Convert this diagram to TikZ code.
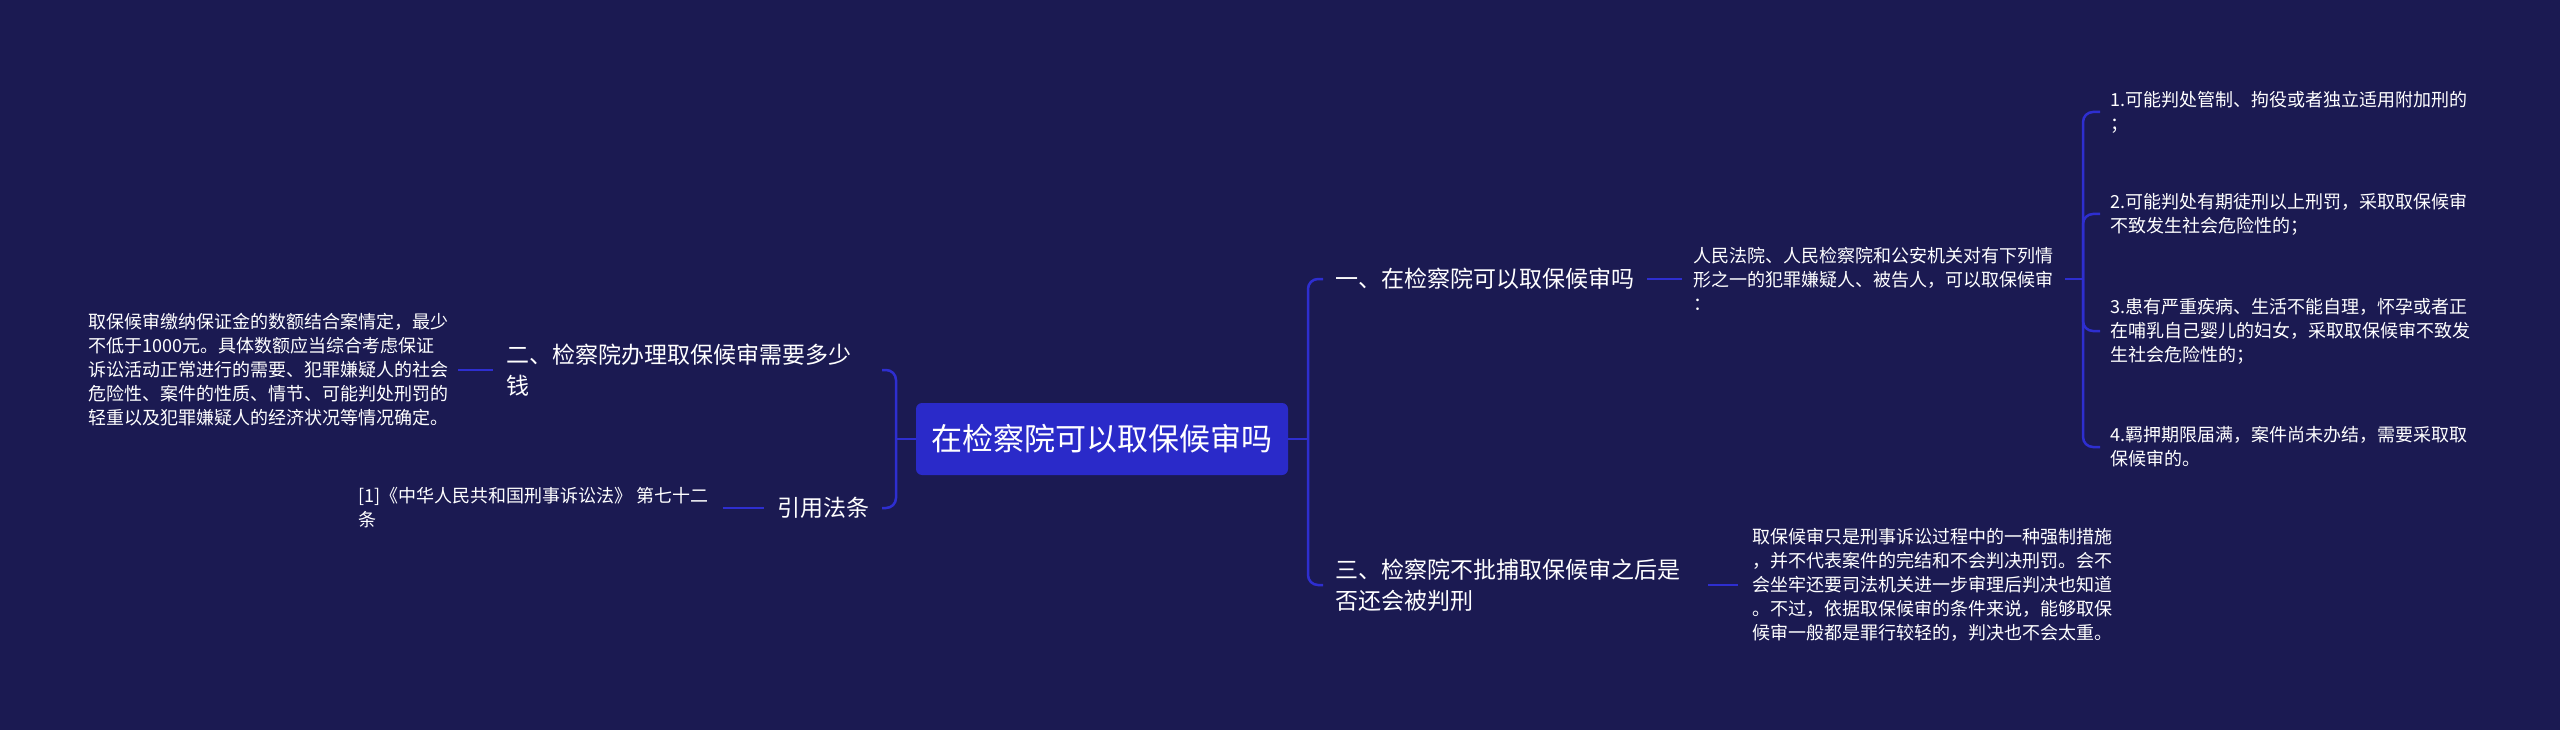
\documentclass[tikz,border=0pt]{standalone}
\usepackage{fontspec}
\setmainfont{Noto Sans CJK SC}
\definecolor{bg}{HTML}{1B1A52}
\definecolor{hub}{HTML}{2A2AC9}
\definecolor{wire}{HTML}{2E2ED0}
\begin{document}
\begin{tikzpicture}[x=1pt,y=-1pt,
  conn/.style={draw=wire,line width=2.5pt,rounded corners=10pt},
  txt/.style={text=white,inner sep=0pt,align=left,anchor=west},
  big/.style={txt,font=\fontsize{23}{31}\selectfont},
  small/.style={txt,font=\fontsize{18}{24}\selectfont},
  hubnode/.style={fill=hub,rounded corners=6pt,text=white,font=\fontsize{31}{36}\selectfont,minimum width=372pt,minimum height=72pt,inner sep=0pt}]
\fill[bg] (0,0) rectangle (2560,730);
\useasboundingbox (0,0) rectangle (2560,730);

% nodes
\node[hubnode] (c) at (1102,439) {在检察院可以取保候审吗};
\node[big] (r1) at (1335,279) {一、在检察院可以取保候审吗};
\node[big] (r3) at (1335,585) {三、检察院不批捕取保候审之后是\\否还会被判刑};
\node[small] (d1) at (1693,279) {人民法院、人民检察院和公安机关对有下列情\\形之一的犯罪嫌疑人、被告人，可以取保候审\\：};
\node[small] (i1) at (2110,112) {1.可能判处管制、拘役或者独立适用附加刑的\\；};
\node[small] (i2) at (2110,214) {2.可能判处有期徒刑以上刑罚，采取取保候审\\不致发生社会危险性的；};
\node[small] (i3) at (2110,331) {3.患有严重疾病、生活不能自理，怀孕或者正\\在哺乳自己婴儿的妇女，采取取保候审不致发\\生社会危险性的；};
\node[small] (i4) at (2110,447) {4.羁押期限届满，案件尚未办结，需要采取取\\保候审的。};
\node[small] (d3) at (1752,585) {取保候审只是刑事诉讼过程中的一种强制措施\\，并不代表案件的完结和不会判决刑罚。会不\\会坐牢还要司法机关进一步审理后判决也知道\\。不过，依据取保候审的条件来说，能够取保\\候审一般都是罪行较轻的，判决也不会太重。};
\node[big] (l2) at (506,370) {二、检察院办理取保候审需要多少\\钱};
\node[big] (lr) at (777,508) {引用法条};
\node[small] (dl2) at (88,370) {取保候审缴纳保证金的数额结合案情定，最少\\不低于1000元。具体数额应当综合考虑保证\\诉讼活动正常进行的需要、犯罪嫌疑人的社会\\危险性、案件的性质、情节、可能判处刑罚的\\轻重以及犯罪嫌疑人的经济状况等情况确定。};
\node[small] (dlr) at (358,508) {[1]《中华人民共和国刑事诉讼法》 第七十二\\条};

% bracket coordinates
\coordinate (cr) at (1308,439);
\coordinate (cre) at (1323,0);
\coordinate (cl) at (896,439);
\coordinate (cle) at (882,0);
\coordinate (ir) at (2083,279);
\coordinate (ie) at (2100,0);

% connectors
\draw[conn] (c.east) -- (cr);
\draw[conn] (cr) |- (r1.west -| cre);
\draw[conn] (cr) |- (r3.west -| cre);
\draw[conn] (c.west) -- (cl);
\draw[conn] (cl) |- (l2.east -| cle);
\draw[conn] (cl) |- (lr.east -| cle);

\draw[conn] ([xshift=13pt]r1.east) -- ([xshift=-11pt]d1.west);
\draw[conn] ([xshift=28pt]r3.east) -- ([xshift=-14pt]d3.west);
\draw[conn] ([xshift=12pt]d1.east) -- (ir);
\draw[conn] (ir) |- (i1.west -| ie);
\draw[conn] (ir) |- (i2.west -| ie);
\draw[conn] (ir) |- (i3.west -| ie);
\draw[conn] (ir) |- (i4.west -| ie);

\draw[conn] ([xshift=10pt]dl2.east) -- ([xshift=-13pt]l2.west);
\draw[conn] ([xshift=14pt]dlr.east) -- ([xshift=-13pt]lr.west);
\end{tikzpicture}
\end{document}
